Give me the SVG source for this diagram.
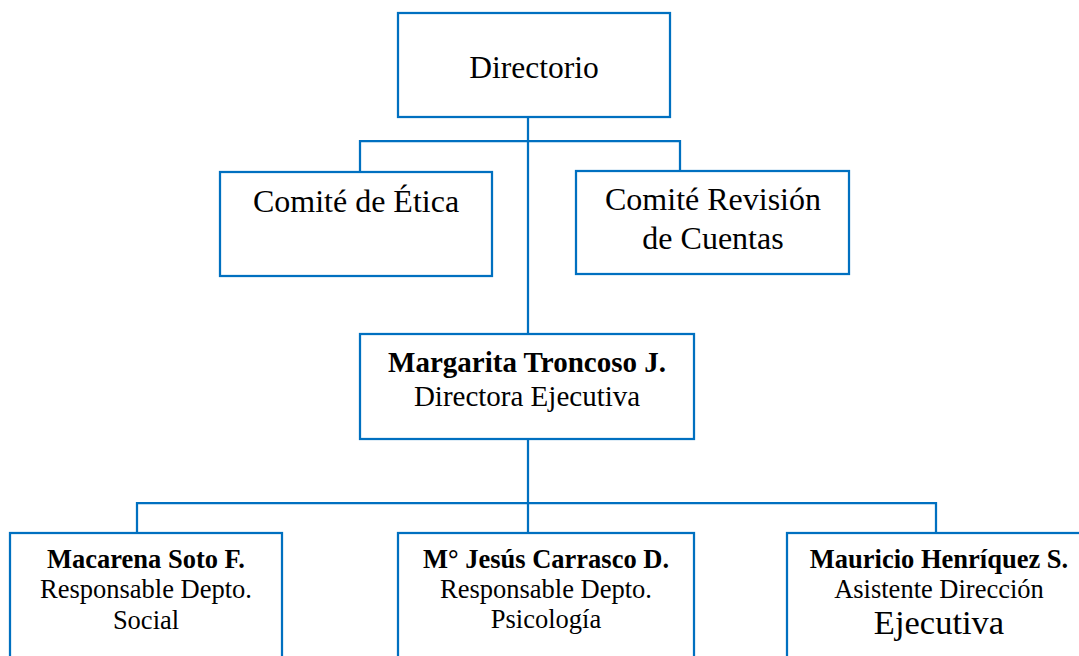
<svg xmlns="http://www.w3.org/2000/svg" width="1079" height="656" viewBox="0 0 1079 656">
<style>
.box{fill:#fff;stroke:#0070C0;stroke-width:2.25}
.ln{fill:none;stroke:#0070C0;stroke-width:2.25}
text{font-family:"Liberation Serif","Times New Roman",serif;fill:#000;text-anchor:middle}
.b{font-weight:bold}
</style>
<rect width="1079" height="656" fill="#fff"/>
<g id="connectors">
<path class="ln" d="M528,117 V334 M360,172 V141 H680 V171 M528,439 V533 M137,533 V503 H936 V533"/>
</g>
<g id="directorio">
<rect class="box" x="398" y="13" width="272" height="104"/>
<text x="534" y="78" font-size="31.5">Directorio</text>
</g>
<g id="comite-etica">
<rect class="box" x="220" y="172" width="272" height="104"/>
<text x="356" y="212" font-size="32">Comité de Ética</text>
</g>
<g id="comite-revision">
<rect class="box" x="576" y="171" width="273" height="103"/>
<text x="713" y="210" font-size="32">Comité Revisión</text>
<text x="713" y="249" font-size="32">de Cuentas</text>
</g>
<g id="directora">
<rect class="box" x="360" y="334" width="334" height="105"/>
<text class="b" x="527" y="372" font-size="29">Margarita Troncoso J.</text>
<text x="527" y="406" font-size="29">Directora Ejecutiva</text>
</g>
<g id="social">
<rect class="box" x="10" y="533" width="272" height="140"/>
<text class="b" x="146" y="568" font-size="26.5">Macarena Soto F.</text>
<text x="146" y="598" font-size="26.5">Responsable Depto.</text>
<text x="146" y="629" font-size="26.5">Social</text>
</g>
<g id="psicologia">
<rect class="box" x="398" y="533" width="296" height="140"/>
<text class="b" x="546" y="568" font-size="26.5">M° Jesús Carrasco D.</text>
<text x="546" y="598" font-size="26.5">Responsable Depto.</text>
<text x="546" y="628" font-size="26.5">Psicología</text>
</g>
<g id="asistente">
<rect class="box" x="787" y="533" width="310" height="140"/>
<text class="b" x="939" y="568" font-size="26.5">Mauricio Henríquez S.</text>
<text x="939" y="598" font-size="26.5">Asistente Dirección</text>
<text x="939" y="634" font-size="34.5">Ejecutiva</text>
</g>
</svg>
